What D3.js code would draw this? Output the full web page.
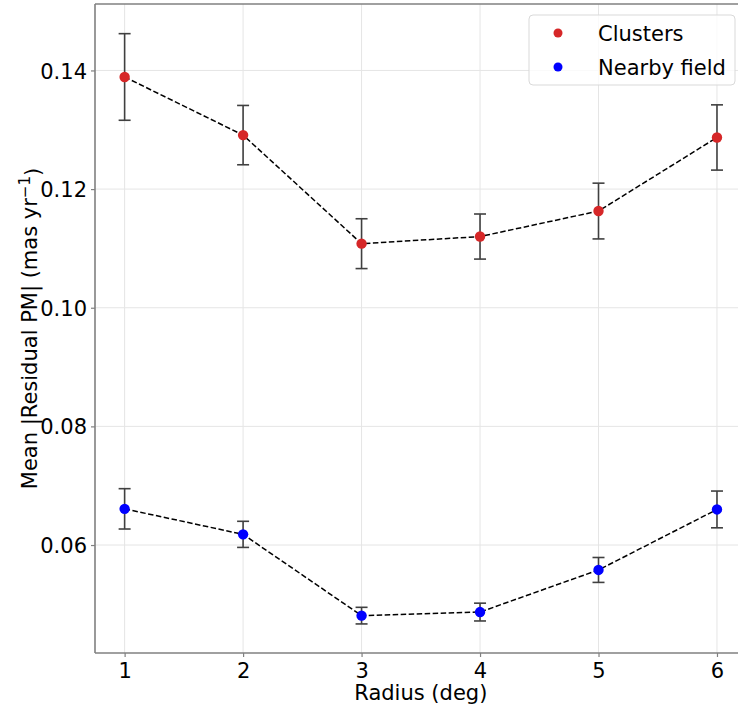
<!DOCTYPE html>
<html><head><meta charset="utf-8">
<script src="https://cdn.jsdelivr.net/npm/d3@7"></script>
<style>body{margin:0;background:#fff}svg{display:block}</style>
</head><body>
<script>
const radius = [1, 2, 3, 4, 5, 6];
const clusterMean = [0.1389, 0.1291, 0.1108, 0.1120, 0.1163, 0.1287];
const clusterErr  = [0.0073, 0.0050, 0.0042, 0.0038, 0.0047, 0.0055];
const fieldMean   = [0.0661, 0.0618, 0.0481, 0.0487, 0.0558, 0.0660];
const fieldErr    = [0.0034, 0.0022, 0.0014, 0.0015, 0.0021, 0.0031];
const yTicks = [0.06, 0.08, 0.10, 0.12, 0.14];
const seriesNames = ["Clusters", "Nearby field"];
const seriesColors = ["#d62728", "#0000ff"];

const W = 738, H = 710;
const m = {left: 95, top: 4, right: 746.6, bottom: 653};
const FS = "21px";
const svg = d3.select("body").append("svg").attr("width", W).attr("height", H)
  .style("font-family", "DejaVu Sans, sans-serif");

const x = d3.scaleLinear().domain([0.75, 6.25]).range([m.left, m.right]);
const y = d3.scaleLinear().domain([0.0418, 0.1512]).range([m.bottom, m.top]);

// grid
const g = svg.append("g");
g.selectAll(".gx").data(radius).join("line")
  .attr("x1", d => x(d)).attr("x2", d => x(d)).attr("y1", m.top).attr("y2", m.bottom)
  .attr("stroke", "#e5e5e5").attr("stroke-width", 1);
g.selectAll(".gy").data(yTicks).join("line")
  .attr("y1", d => y(d)).attr("y2", d => y(d)).attr("x1", m.left).attr("x2", m.right)
  .attr("stroke", "#e5e5e5").attr("stroke-width", 1);

// axes
const xAxis = d3.axisBottom(x).tickValues(radius).tickFormat(d3.format("d")).tickSize(4).tickPadding(6);
const yAxis = d3.axisLeft(y).tickValues(yTicks).tickFormat(d3.format(".2f")).tickSize(4).tickPadding(4);
const gx = svg.append("g").attr("transform", `translate(0,${m.bottom})`).call(xAxis);
const gy = svg.append("g").attr("transform", `translate(${m.left},0)`).call(yAxis);
[gx, gy].forEach(a => {
  a.select(".domain").remove();
  a.selectAll(".tick line").attr("stroke", "#808080").attr("stroke-width", 1.2);
  a.selectAll(".tick text").attr("fill", "#000").style("font-size", FS)
   .style("font-family", "DejaVu Sans, sans-serif");
});
gy.selectAll(".tick text").attr("dy", "0.36em");

// spines
svg.append("line").attr("x1", m.left).attr("x2", m.left).attr("y1", m.top).attr("y2", m.bottom)
  .attr("stroke", "#808080").attr("stroke-width", 1.6);
svg.append("line").attr("x1", m.left).attr("x2", m.right).attr("y1", m.bottom).attr("y2", m.bottom)
  .attr("stroke", "#808080").attr("stroke-width", 1.6);
svg.append("line").attr("x1", m.left).attr("x2", m.right).attr("y1", m.top).attr("y2", m.top)
  .attr("stroke", "#808080").attr("stroke-width", 1.6);

// series
const series = [
  {mean: clusterMean, err: clusterErr, color: seriesColors[0]},
  {mean: fieldMean, err: fieldErr, color: seriesColors[1]}
];
const line = d3.line().x(d => x(d[0])).y(d => y(d[1]));
series.forEach(s => {
  const pts = radius.map((r, i) => [r, s.mean[i], s.err[i]]);
  svg.append("path").datum(pts).attr("d", line).attr("fill", "none")
    .attr("stroke", "#000").attr("stroke-width", 1.5).attr("stroke-dasharray", "5.5,2.5");
  const eb = svg.append("g").attr("stroke", "#404040").attr("stroke-width", 1.6);
  eb.selectAll(".v").data(pts).join("line")
    .attr("x1", d => x(d[0])).attr("x2", d => x(d[0]))
    .attr("y1", d => y(d[1] - d[2])).attr("y2", d => y(d[1] + d[2]));
  eb.selectAll(".ct").data(pts).join("line")
    .attr("x1", d => x(d[0]) - 6).attr("x2", d => x(d[0]) + 6)
    .attr("y1", d => y(d[1] + d[2])).attr("y2", d => y(d[1] + d[2]));
  eb.selectAll(".cb").data(pts).join("line")
    .attr("x1", d => x(d[0]) - 6).attr("x2", d => x(d[0]) + 6)
    .attr("y1", d => y(d[1] - d[2])).attr("y2", d => y(d[1] - d[2]));
  svg.append("g").selectAll("circle").data(pts).join("circle")
    .attr("cx", d => x(d[0])).attr("cy", d => y(d[1])).attr("r", 5.2).attr("fill", s.color);
});

// axis labels
svg.append("text").attr("x", (m.left + m.right) / 2).attr("y", 700).attr("text-anchor", "middle")
  .style("font-size", FS).text("Radius (deg)");
const yl = svg.append("text").attr("transform", `translate(37,${(m.top + m.bottom) / 2}) rotate(-90)`)
  .attr("text-anchor", "middle").style("font-size", FS);
yl.append("tspan").text("Mean |Residual PM| (mas yr");
yl.append("tspan").attr("dy", "-0.45em").style("font-size", "15px").text("−1");
yl.append("tspan").attr("dy", "0.45em").text(")");

// legend
const lg = svg.append("g");
lg.append("rect").attr("x", 529).attr("y", 15).attr("width", 206).attr("height", 70).attr("rx", 4)
  .attr("fill", "#fff").attr("fill-opacity", 0.8).attr("stroke", "#d9d9d9").attr("stroke-width", 1);
seriesNames.forEach((n, i) => {
  const cy = 33 + i * 34;
  lg.append("circle").attr("cx", 558).attr("cy", cy).attr("r", 4.5).attr("fill", seriesColors[i]);
  lg.append("text").attr("x", 598).attr("y", cy).attr("dy", "0.36em").style("font-size", FS).text(n);
});
</script>
</body></html>
